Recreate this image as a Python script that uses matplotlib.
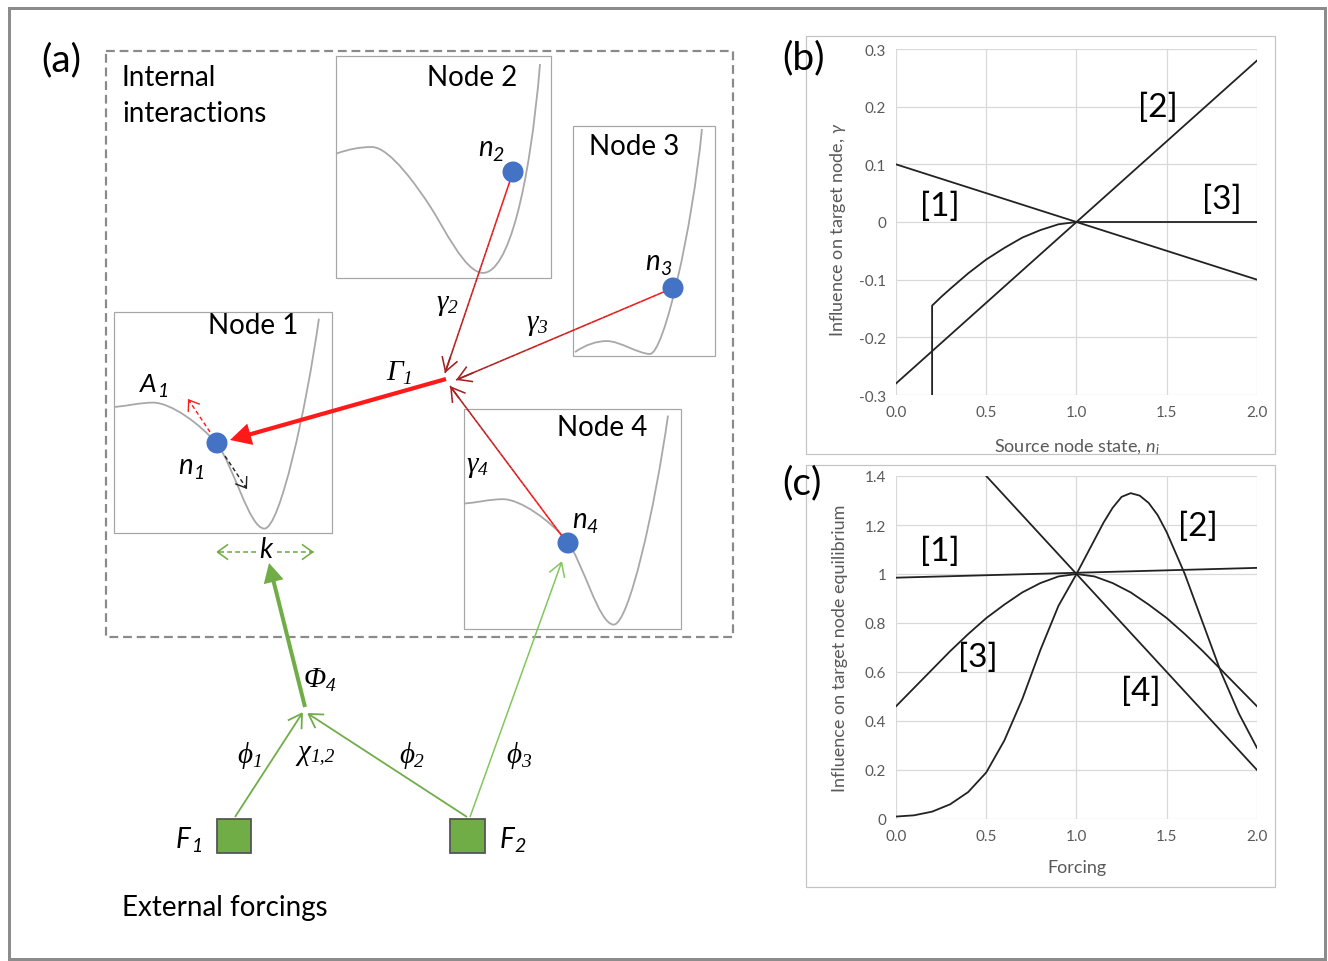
import numpy as np
import matplotlib
matplotlib.use("Agg")
import matplotlib.pyplot as plt
from matplotlib.patches import Rectangle, Circle, FancyArrowPatch, PathPatch
from matplotlib.path import Path
from matplotlib.collections import LineCollection
from matplotlib.colors import to_rgb

# ---------------- data: panel (b) ----------------
b_line_x = [0.0, 2.0]
b_curve1 = [0.1, -0.1]
b_curve2 = [-0.28, 0.28]
b_curve3_x = [0.2, 0.2, 0.25, 0.3, 0.4, 0.5, 0.6, 0.7, 0.8, 0.9, 1.0, 2.0]
b_curve3_y = [-0.3, -0.145, -0.130, -0.116, -0.089, -0.065, -0.045, -0.027,
              -0.014, -0.004, 0.0, 0.0]
b_xticks = [0.0, 0.5, 1.0, 1.5, 2.0]
b_xticklabels = ["0.0", "0.5", "1.0", "1.5", "2.0"]
b_yticks = [-0.3, -0.2, -0.1, 0.0, 0.1, 0.2, 0.3]
b_yticklabels = ["-0.3", "-0.2", "-0.1", "0", "0.1", "0.2", "0.3"]
b_tags = ["[1]", "[2]", "[3]"]
b_tag_x = [0.244, 1.451, 1.806]
b_tag_y = [0.028, 0.199, 0.040]

# ---------------- data: panel (c) ----------------
c_curve1_x = [0.0, 2.0]
c_curve1_y = [0.985, 1.025]
c_curve2_x = [0.0, 0.1, 0.2, 0.3, 0.4, 0.5, 0.6, 0.7, 0.8, 0.9, 1.0, 1.1, 1.15,
              1.2, 1.25, 1.3, 1.35, 1.4, 1.45, 1.5, 1.6, 1.7, 1.8, 1.9, 2.0]
c_curve2_y = [0.01, 0.015, 0.03, 0.06, 0.11, 0.19, 0.32, 0.49, 0.69, 0.87, 1.0,
              1.14, 1.21, 1.27, 1.315, 1.33, 1.32, 1.29, 1.24, 1.17, 1.0, 0.80,
              0.60, 0.43, 0.29]
c_curve3_x = [0.0, 0.1, 0.2, 0.3, 0.4, 0.5, 0.6, 0.7, 0.8, 0.9, 1.0, 1.1, 1.2,
              1.3, 1.4, 1.5, 1.6, 1.7, 1.8, 1.9, 2.0]
c_curve3_y = [0.46, 0.535, 0.61, 0.685, 0.755, 0.82, 0.875, 0.925, 0.963, 0.99,
              1.0, 0.99, 0.963, 0.925, 0.875, 0.82, 0.755, 0.685, 0.61, 0.535,
              0.46]
c_curve4_x = [0.5, 2.0]
c_curve4_y = [1.4, 0.2]
c_xticks = [0.0, 0.5, 1.0, 1.5, 2.0]
c_xticklabels = ["0.0", "0.5", "1.0", "1.5", "2.0"]
c_yticks = [0.0, 0.2, 0.4, 0.6, 0.8, 1.0, 1.2, 1.4]
c_yticklabels = ["0", "0.2", "0.4", "0.6", "0.8", "1", "1.2", "1.4"]
c_tags = ["[1]", "[2]", "[3]", "[4]"]
c_tag_x = [0.244, 1.673, 0.454, 1.357]
c_tag_y = [1.094, 1.196, 0.661, 0.522]

# ---------------- styling ----------------
SANS = "Lato"
SERIF = ["Liberation Serif", "DejaVu Serif"]
plt.rcParams["font.family"] = [SANS, "DejaVu Sans"]
plt.rcParams["mathtext.fontset"] = "custom"
plt.rcParams["mathtext.it"] = "Lato:italic"
plt.rcParams["mathtext.rm"] = "Lato"

RED = "#FF1A1A"
DARKRED = "#A52222"
GREEN = "#70AD47"
LIGHTGREEN = "#80C65A"
BLUE = "#4472C4"
CURVE = "#A8A8A8"
BOXEDGE = "#A6A6A6"

W, H = 1328, 962
fig = plt.figure(figsize=(W / 100, H / 100), dpi=100)
ax = fig.add_axes([0, 0, 1, 1])
ax.set_xlim(0, W)
ax.set_ylim(H, 0)
ax.axis("off")
renderer = fig.canvas.get_renderer()

PX = 72 / 100  # points per pixel


# ---------------- helpers ----------------
def rect(x0, y0, x1, y1, ec, lw_px, ls="-", fc="none", z=1):
    ax.add_patch(Rectangle((x0, y0), x1 - x0, y1 - y0, fc=fc, ec=ec,
                           lw=lw_px * PX, ls=ls, zorder=z))


# double-well shapes in box-relative coordinates (0..1, y downward)
DEEP_WELL = [(0.0, 0.43), (0.06, 0.425), (0.12, 0.41), (0.18, 0.41),
             (0.26, 0.41), (0.398, 0.508), (0.472, 0.597),
             (0.546, 0.686), (0.62, 0.98), (0.69, 0.98),
             (0.76, 0.98), (0.88, 0.45), (0.94, 0.03)]
EARLY_WELL = [(0.0, 0.44), (0.06, 0.42), (0.11, 0.41), (0.167, 0.41),
              (0.25, 0.41), (0.381, 0.593), (0.437, 0.676),
              (0.504, 0.776), (0.60, 0.977), (0.684, 0.977),
              (0.80, 0.977), (0.90, 0.60), (0.949, 0.036)]
SHALLOW_WELL = [(0.014, 0.983), (0.09, 0.95), (0.17, 0.935), (0.239, 0.935),
                (0.33, 0.935), (0.46, 0.991), (0.542, 0.991),
                (0.64, 0.991), (0.84, 0.45), (0.908, 0.013)]


def node(x0, y0, x1, y1, shape, title, tx, ty):
    rect(x0, y0, x1, y1, BOXEDGE, 1.2, z=2)
    w, h = x1 - x0, y1 - y0
    verts = [(x0 + u * w, y0 + v * h) for u, v in shape]
    codes = [Path.MOVETO] + [Path.CURVE4] * (len(verts) - 1)
    ax.add_patch(PathPatch(Path(verts, codes), fc="none", ec=CURVE,
                           lw=1.3, zorder=3))
    ax.text(tx, ty, title, fontsize=20, ha="center", va="center",
            family=SANS, zorder=10)


def dot(x, y):
    ax.add_patch(Circle((x, y), 10.5, fc=BLUE, ec="none", zorder=8))


def arrow(p0, p1, color, lw_px, style="->", hl=0.75, hw=0.45, ms=13,
          ls="-", z=6):
    ax.add_patch(FancyArrowPatch(
        p0, p1, arrowstyle=f"{style},head_length={hl},head_width={hw}",
        mutation_scale=ms, color=color, lw=lw_px * PX, linestyle=ls,
        shrinkA=0, shrinkB=0, zorder=z, joinstyle="miter", capstyle="butt"))


def grad_arrow(p0, p1, c0, c1, lw_px):
    p0, p1 = np.array(p0, float), np.array(p1, float)
    n = 40
    pts = p0 + (p1 - p0) * np.linspace(0, 1, n + 1)[:, None]
    segs = np.stack([pts[:-1], pts[1:]], axis=1)
    a, b = np.array(to_rgb(c0)), np.array(to_rgb(c1))
    cols = [a + (b - a) * f for f in np.linspace(0, 1, n)]
    ax.add_collection(LineCollection(segs, colors=cols, lw=lw_px * PX,
                                     zorder=6, capstyle="butt"))
    mid = p1 - (p1 - p0) * 0.08
    arrow(tuple(mid), tuple(p1), c1, lw_px)


def dashed_arrow(p0, p1, color, lw_px, ms=10):
    p0, p1 = np.array(p0, float), np.array(p1, float)
    ax.plot([p0[0], p1[0]], [p0[1], p1[1]], color=color, lw=lw_px * PX,
            ls=(0, (3, 2)), zorder=6)
    near = p1 - (p1 - p0) / np.linalg.norm(p1 - p0) * 4
    arrow(tuple(near), tuple(p1), color, lw_px, hl=0.7, hw=0.5, ms=ms)


def sym(x, y, main, sub, fam, size, subsize, drop=5, gap=0.0):
    t = ax.text(x, y, main, family=fam, style="italic", fontsize=size,
                ha="left", va="baseline", zorder=10)
    bb = t.get_window_extent(renderer=renderer)
    ax.text(bb.x1 + gap, y + drop, sub, family=fam, style="italic",
            fontsize=subsize, ha="left", va="baseline", zorder=10)


# ---------------- panel (a) ----------------
# outer frame
rect(9, 9, 1325, 960, "#8C8C8C", 3, z=1)
ax.text(41, 60, "(a)", fontsize=28, ha="left", va="center", family=SANS)

# internal-interaction region
rect(106, 52, 733, 638, "#8A8A8A", 2.2, ls=(0, (4, 2.2)), z=1)
ax.text(122, 78, "Internal", fontsize=20, ha="left", va="center", family=SANS)
ax.text(122, 114, "interactions", fontsize=20, ha="left", va="center",
        family=SANS)

node(336, 57, 551, 279, EARLY_WELL, "Node 2", 472, 78)
node(573, 127, 715, 357, SHALLOW_WELL, "Node 3", 634, 147)
node(114, 313, 332, 534, DEEP_WELL, "Node 1", 253, 326)
node(464, 410, 681, 630, DEEP_WELL, "Node 4", 602, 428)

dot(217, 444)
dot(513, 173)
dot(673, 289)
dot(568, 544)

# interactions converging on node 1
grad_arrow((513, 173), (445, 374), RED, DARKRED, 1.6)
grad_arrow((673, 289), (456, 381), RED, DARKRED, 1.6)
grad_arrow((562, 537), (450, 387), RED, DARKRED, 1.6)
arrow((446, 380), (230, 441), RED, 4.2, style="-|>", hl=0.8, hw=0.42, ms=13)

# node 1 perturbation directions
dashed_arrow((210, 433), (188, 400), RED, 1.4)
dashed_arrow((225, 457), (247, 490), "#222222", 1.4)

sym(478, 156, "n", "2", SANS, 20, 14)
sym(645, 270, "n", "3", SANS, 20, 14)
sym(572, 528, "n", "4", SANS, 20, 14)
sym(178, 474, "n", "1", SANS, 20, 14)
sym(140, 392, "A", "1", SANS, 19, 14)
sym(386, 380, "\u0393", "1", SERIF, 21, 14, drop=4)
sym(436, 310, "\u03b3", "2", SERIF, 21, 14, drop=3)
sym(526, 330, "\u03b3", "3", SERIF, 21, 14, drop=3)
sym(466, 472, "\u03b3", "4", SERIF, 21, 14, drop=3)

# forcing on node 1 well width
dashed_arrow((256, 553), (216, 553), GREEN, 1.6, ms=11)
dashed_arrow((277, 553), (314, 553), GREEN, 1.6, ms=11)
ax.text(266, 558, "k", family=SANS, style="italic", fontsize=20,
        ha="center", va="baseline", zorder=10)

# external forcings
arrow((305, 708), (269, 564), GREEN, 4.0, style="-|>", hl=0.85, hw=0.45,
      ms=11)
arrow((235, 818), (303, 713), GREEN, 1.8)
arrow((467, 818), (307, 714), GREEN, 1.8)
arrow((470, 818), (562, 562), LIGHTGREEN, 1.5)

rect(217, 820, 251, 854, "#555555", 1.8, fc=GREEN, z=7)
rect(450, 820, 485, 854, "#555555", 1.8, fc=GREEN, z=7)

sym(304, 687, "\u03a6", "4", SERIF, 21, 14, drop=4)
sym(237, 763, "\u03d5", "1", SERIF, 21, 14, drop=4)
sym(297, 760, "\u03c7", "1,2", SERIF, 21, 14, drop=1)
sym(399, 763, "\u03d5", "2", SERIF, 21, 14, drop=4)
sym(506, 763, "\u03d5", "3", SERIF, 21, 14, drop=4)
sym(176, 848, "F", "1", SANS, 20, 14, drop=4)
sym(500, 848, "F", "2", SANS, 20, 14, drop=4)

ax.text(122, 908, "External forcings", fontsize=20, ha="left", va="center",
        family=SANS)

# ---------------- panels (b) and (c) ----------------
rect(806, 37, 1275, 455, "#C4C4C4", 1.2, z=1)
rect(806, 466, 1275, 888, "#C4C4C4", 1.2, z=1)
ax.text(782, 58, "(b)", fontsize=28, ha="left", va="center", family=SANS)
ax.text(782, 483, "(c)", fontsize=28, ha="left", va="center", family=SANS)


def inset(x0, ytop, x1, ybot):
    return fig.add_axes([x0 / W, (H - ybot) / H, (x1 - x0) / W,
                         (ybot - ytop) / H])


def style_inset(a, xt, xtl, yt, ytl, ylim):
    a.set_xlim(0, 2)
    a.set_ylim(*ylim)
    a.set_xticks(xt)
    a.set_xticklabels(xtl)
    a.set_yticks(yt)
    a.set_yticklabels(ytl)
    for s in a.spines.values():
        s.set_visible(False)
    a.grid(True, color="#D9D9D9", lw=0.9)
    a.set_axisbelow(True)
    a.tick_params(length=0, labelsize=11, labelcolor="#595959", pad=7)
    for lab in a.get_xticklabels() + a.get_yticklabels():
        lab.set_family(SANS)
    a.patch.set_alpha(0)


LINE = dict(color="#222222", lw=1.3, solid_joinstyle="round")
LABEL = dict(fontsize=13, color="#595959")

axb = inset(896, 50, 1257, 396)
style_inset(axb, b_xticks, b_xticklabels, b_yticks, b_yticklabels,
            (-0.3, 0.3))
axb.plot(b_line_x, b_curve1, **LINE)
axb.plot(b_line_x, b_curve2, **LINE)
axb.plot(b_curve3_x, b_curve3_y, **LINE)
for t, x, y in zip(b_tags, b_tag_x, b_tag_y):
    axb.text(x, y, t, fontsize=24, ha="center", va="center", family=SANS)
axb.set_xlabel("Source node state, $n_i$", **LABEL)
axb.set_ylabel("Influence on target node, $\\gamma$", **LABEL)
axb.xaxis.set_label_coords(0.5, -(447 - 396) / 346)
axb.yaxis.set_label_coords((838 - 896) / 361, 0.48)
axb.xaxis.label.set_va("center")
axb.yaxis.label.set_va("center")

axc = inset(896, 477, 1257, 820)
style_inset(axc, c_xticks, c_xticklabels, c_yticks, c_yticklabels,
            (0.0, 1.4))
axc.plot(c_curve1_x, c_curve1_y, **LINE)
axc.plot(c_curve2_x, c_curve2_y, **LINE)
axc.plot(c_curve3_x, c_curve3_y, **LINE)
axc.plot(c_curve4_x, c_curve4_y, **LINE)
for t, x, y in zip(c_tags, c_tag_x, c_tag_y):
    axc.text(x, y, t, fontsize=24, ha="center", va="center", family=SANS)
axc.set_xlabel("Forcing", **LABEL)
axc.set_ylabel("Influence on target node equilibrium", **LABEL)
axc.xaxis.set_label_coords(0.5, -(868 - 820) / 343)
axc.yaxis.set_label_coords((840 - 896) / 361, 0.5)
axc.xaxis.label.set_va("center")
axc.yaxis.label.set_va("center")

fig.savefig("out.png", dpi=100)
